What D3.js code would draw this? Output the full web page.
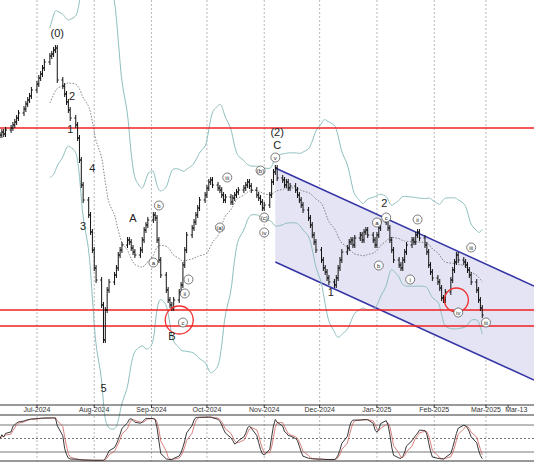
<!DOCTYPE html><html><head><meta charset="utf-8"><script src="https://cdn.jsdelivr.net/npm/d3@7"></script>
<style>body{margin:0;background:#fff}text{font-family:Arial,"Liberation Sans",sans-serif}</style></head><body><svg id="c" width="534" height="462"></svg>
<script>
const startDate="2024-06-11";
const closes=[265,268,266,270,272,275,278,282,287,291,296,300,304,310,316,322,326,332,338,344,346,350,352,
320,314,306,298,290,282,275,262,240,215,200,185,168,150,132,120,95,60,90,110,118,125,132,145,150,155,160,158,
152,148,145,150,160,170,175,180,185,182,160,140,125,110,100,95,92,100,108,115,135,150,165,172,178,185,192,200,205,212,
218,220,215,212,210,205,200,203,198,202,205,208,210,212,215,218,214,210,205,202,198,192,195,205,218,228,232,222,
220,215,218,212,214,210,205,200,195,190,182,175,165,158,150,140,132,128,122,118,115,122,132,140,148,152,158,160,155,
162,165,160,168,170,165,160,155,165,172,178,182,172,160,150,140,135,132,140,148,155,160,158,165,168,162,155,148,135,128,
122,118,112,102,100,108,120,130,138,145,140,138,135,130,125,118,110,100,92,85];
const monthTicks=[["2024-07-01","Jul-2024"],["2024-08-01","Aug-2024"],["2024-09-01","Sep-2024"],["2024-10-01","Oct-2024"],["2024-11-01","Nov-2024"],["2024-12-01","Dec-2024"],["2025-01-01","Jan-2025"],["2025-02-01","Feb-2025"],["2025-03-01","Mar-2025"],["2025-03-13","Mar-13"]];
const hLevels=[272,90,74];
const channelUpper=[["2024-11-07",232],["2025-03-27",114]];
const channelLower=[["2024-11-07",138],["2025-03-27",20]];
const waveLabels=[["2024-07-12",363,"(0)"],["2024-07-20",300,"2"],["2024-07-19",267,"1"],["2024-07-31",228,"4"],["2024-07-26",170,"3"],["2024-08-06",8,"5"],["2024-08-22",178,"A"],["2024-09-12",60,"B"],["2024-11-08",264,"(2)"],["2024-11-08",251,"C"],["2024-12-07",104,"1"],["2025-01-05",193,"2"]];
const smallLabels=[["2024-09-05",192,"b"],["2024-09-02",135,"a"],["2024-09-21",118,"i"],["2024-09-19",104,"ii"],["2024-09-18",75,"c"],["2024-10-12",220,"iii"],["2024-10-08",170,"(a)"],["2024-10-30",227,"(b)"],["2024-11-01",180,"(c)"],["2024-11-01",165,"iv"],["2024-11-07",240,"v"],["2025-01-01",175,"a"],["2025-01-06",180,"c"],["2025-01-02",132,"b"],["2025-01-23",178,"ii"],["2025-01-19",118,"i"],["2025-02-21",150,"iii"],["2025-02-14",85,"iv"],["2025-03-01",75,"iii"]];
const redCircles=[["2024-09-16",80,14],["2025-02-13",100,12]];

const svg=d3.select("#c");
const parse=d3.timeParse("%Y-%m-%d");
const x=d3.scaleTime().domain([parse("2024-06-11"),parse("2025-03-27")]).range([0,534]);
const y=d3.scaleLinear().domain([0,400]).range([400,0]);
const ys=d3.scaleLinear().domain([0,100]).range([461,416]);
const dates=[];let d=parse(startDate);
while(dates.length<closes.length){if(d.getDay()!==0&&d.getDay()!==6)dates.push(new Date(d));d=d3.timeDay.offset(d,1);}
monthTicks.forEach(([t,l])=>{const xx=x(parse(t));const last=l==="Mar-13";
 if(!last){svg.append("line").attr("x1",xx).attr("x2",xx).attr("y1",0).attr("y2",405).attr("stroke","#999").attr("stroke-dasharray","2,2").attr("stroke-width",0.7);
 svg.append("line").attr("x1",xx).attr("x2",xx).attr("y1",416).attr("y2",461).attr("stroke","#999").attr("stroke-dasharray","2,2").attr("stroke-width",0.7);}
 svg.append("line").attr("x1",xx).attr("x2",xx).attr("y1",405).attr("y2",408).attr("stroke","#333");
 svg.append("text").attr("x",last?xx-3:xx).attr("y",412).attr("text-anchor",last?"start":"middle").attr("font-size",7).attr("fill","#333").text(l);});
const cp=[...channelUpper.map(p=>[x(parse(p[0])),y(p[1])]),...channelLower.slice().reverse().map(p=>[x(parse(p[0])),y(p[1])])];
svg.append("polygon").attr("points",cp.map(p=>p.join(",")).join(" ")).attr("fill","#e4e4f4");
[channelUpper,channelLower].forEach(c=>svg.append("line").attr("x1",x(parse(c[0][0]))).attr("y1",y(c[0][1])).attr("x2",x(parse(c[1][0]))).attr("y2",y(c[1][1])).attr("stroke","#3535a5").attr("stroke-width",1.5));
const N=20,bb=[];
closes.forEach((c,i)=>{if(i<N-1)return;const w=closes.slice(i-N+1,i+1);const m=d3.mean(w),s=d3.deviation(w);bb.push({d:dates[i],m,u:m+2.6*s+8,l:m-2.6*s-8});});
const ln=k=>d3.line().x(p=>x(p.d)).y(p=>y(p[k])).curve(d3.curveBasis);
svg.append("path").datum(bb).attr("d",ln("u")).attr("fill","none").attr("stroke","#8fbfbf");
svg.append("path").datum(bb).attr("d",ln("l")).attr("fill","none").attr("stroke","#8fbfbf");
svg.append("path").datum(bb).attr("d",ln("m")).attr("fill","none").attr("stroke","#666").attr("stroke-dasharray","1.5,1.5").attr("stroke-width",0.8);
hLevels.forEach(v=>svg.append("line").attr("x1",0).attr("x2",534).attr("y1",y(v)).attr("y2",y(v)).attr("stroke","#f02020").attr("stroke-width",1.6));
closes.forEach((c,i)=>{const o=i?closes[i-1]:c;const hi=Math.max(o,c)+3,lo=Math.min(o,c)-3;const xx=x(dates[i]);
 const g=svg.append("g").attr("stroke","#111").attr("stroke-width",1);
 g.append("line").attr("x1",xx).attr("x2",xx).attr("y1",y(hi)).attr("y2",y(lo));
 g.append("line").attr("x1",xx-1.5).attr("x2",xx).attr("y1",y(o)).attr("y2",y(o));
 g.append("line").attr("x1",xx).attr("x2",xx+1.5).attr("y1",y(c)).attr("y2",y(c));});
redCircles.forEach(([t,v,r])=>svg.append("circle").attr("cx",x(parse(t))).attr("cy",y(v)).attr("r",r).attr("fill","none").attr("stroke","#f03030").attr("stroke-width",1.3));
waveLabels.forEach(([t,v,s])=>svg.append("text").attr("x",x(parse(t))).attr("y",y(v)).attr("text-anchor","middle").attr("font-size",11).attr("fill","#222").text(s));
smallLabels.forEach(([t,v,s])=>{const g=svg.append("g");g.append("ellipse").attr("cx",x(parse(t))).attr("cy",y(v)-2.5).attr("rx",4.5).attr("ry",4.5).attr("fill","#fff").attr("stroke","#444").attr("stroke-width",0.7);
 g.append("text").attr("x",x(parse(t))).attr("y",y(v)).attr("text-anchor","middle").attr("font-size",6).attr("fill","#222").text(s);});
svg.append("line").attr("x1",0).attr("x2",534).attr("y1",405).attr("y2",405).attr("stroke","#333");
svg.append("line").attr("x1",0).attr("x2",534).attr("y1",415).attr("y2",415).attr("stroke","#333");
svg.append("line").attr("x1",0).attr("x2",534).attr("y1",461).attr("y2",461).attr("stroke","#333");
[80,20].forEach(v=>svg.append("line").attr("x1",0).attr("x2",534).attr("y1",ys(v)).attr("y2",ys(v)).attr("stroke","#555").attr("stroke-width",0.8));
svg.append("line").attr("x1",0).attr("x2",534).attr("y1",ys(50)).attr("y2",ys(50)).attr("stroke","#555").attr("stroke-dasharray","2,2").attr("stroke-width",0.8);
const raw=[];closes.forEach((c,i)=>{const w=closes.slice(Math.max(0,i-13),i+1);const h=d3.max(w)+3,l=d3.min(w)-3;raw.push(100*(c-l)/(h-l));});
const sm=(a,n)=>a.map((v,i)=>d3.mean(a.slice(Math.max(0,i-n+1),i+1)));
const kv=sm(raw,3),dv=sm(kv,3);
const K=kv.map((v,i)=>({d:dates[i],v})),D=dv.map((v,i)=>({d:dates[i],v}));
const sl=d3.line().x(p=>x(p.d)).y(p=>ys(p.v));
svg.append("path").datum(D).attr("d",sl).attr("fill","none").attr("stroke","#d06060").attr("stroke-width",0.8);
svg.append("path").datum(K).attr("d",sl).attr("fill","none").attr("stroke","#222").attr("stroke-width",0.9);
</script></body></html>
